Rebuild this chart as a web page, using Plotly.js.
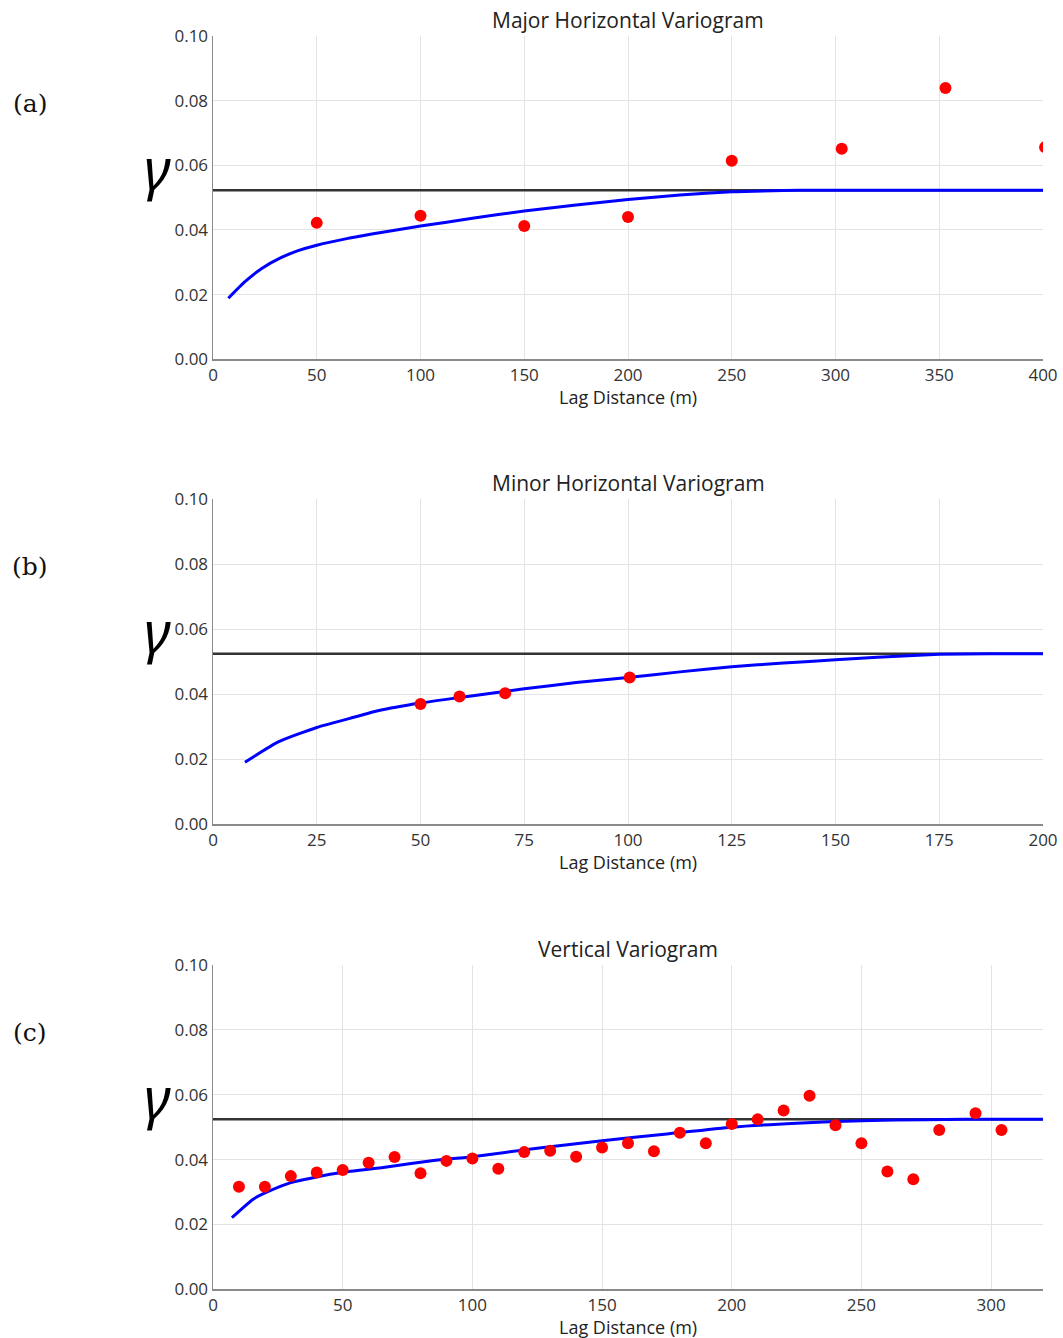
<!DOCTYPE html>
<html>
<head>
<meta charset="utf-8">
<script src="https://cdn.plot.ly/plotly-3.0.1.min.js"></script>
<style>
  html, body { margin: 0; padding: 0; background: #fff; }
  #chart { width: 1063px; height: 1338px; }
</style>
</head>
<body>
<div id="chart"></div>
<script>
// (a) Major horizontal direction: experimental points and fitted model
const majorLag = [50, 100, 150, 200, 250, 303, 353, 401];
const majorGamma = [0.0422, 0.0444, 0.0412, 0.0440, 0.0614, 0.0651, 0.0839, 0.0656];
const majorModelLag = [7.4, 15.4, 23.5, 33, 41, 50, 65, 81, 100, 125, 150, 175, 200, 225, 250, 275, 290, 400];
const majorModelGamma = [0.0189, 0.0240, 0.0281, 0.0315, 0.0336, 0.0353, 0.0374, 0.0392, 0.0412, 0.0436, 0.0459, 0.0477, 0.0494, 0.0508, 0.0518, 0.0522, 0.0523, 0.0523];

// (b) Minor horizontal direction
const minorLag = [50, 59.4, 70.4, 100.4];
const minorGamma = [0.0370, 0.0393, 0.0403, 0.0452];
const minorModelLag = [7.7, 15.6, 25, 33, 40, 50, 60, 75, 87.5, 100, 112.5, 125, 137.5, 150, 160, 175, 187, 200];
const minorModelGamma = [0.0191, 0.0253, 0.0298, 0.0326, 0.0350, 0.0373, 0.0391, 0.0417, 0.0436, 0.0452, 0.0469, 0.0485, 0.0496, 0.0506, 0.0514, 0.0523, 0.0525, 0.0525];

// (c) Vertical direction
const vertLag = [10, 20, 30, 40, 50, 60, 70, 80, 90, 100, 110, 120, 130, 140, 150, 160, 170, 180, 190, 200, 210, 220, 230, 240, 250, 260, 270, 280, 294, 304];
const vertGamma = [0.0316, 0.0316, 0.0349, 0.0360, 0.0368, 0.0390, 0.0408, 0.0358, 0.0396, 0.0403, 0.0372, 0.0423, 0.0427, 0.0409, 0.0437, 0.0450, 0.0426, 0.0483, 0.0450, 0.0510, 0.0524, 0.0551, 0.0597, 0.0506, 0.0450, 0.0363, 0.0339, 0.0491, 0.0543, 0.0491];
const vertModelLag = [7.3, 15.5, 22, 30, 39, 50, 65, 85, 100, 125, 150, 175, 200, 225, 250, 275, 290, 320];
const vertModelGamma = [0.0221, 0.0278, 0.0304, 0.0329, 0.0345, 0.0361, 0.0375, 0.0397, 0.0409, 0.0435, 0.0458, 0.0479, 0.0500, 0.0512, 0.0520, 0.0523, 0.0524, 0.0524];

// Sill of each model
const sills = [0.0523, 0.0525, 0.0524];
const xMax = [400, 200, 320];
const xStep = [50, 25, 50];
const panelTitles = ['Major Horizontal Variogram', 'Minor Horizontal Variogram', 'Vertical Variogram'];
const panelLabels = ['(a)', '(b)', '(c)'];
const yTicks = [0, 0.02, 0.04, 0.06, 0.08, 0.10];

const W = 1063, H = 1338;
const px = v => v / W;
const py = v => 1 - v / H;

// panel frames in pixels: [top, bottom]
const frames = [[36, 359.3], [499.3, 824.3], [965, 1289.3]];
const left = 213, right = 1043;

const tickFont = { family: 'Open Sans, sans-serif', size: 17, color: '#333' };

const series = [
  [majorLag, majorGamma, majorModelLag, majorModelGamma],
  [minorLag, minorGamma, minorModelLag, minorModelGamma],
  [vertLag, vertGamma, vertModelLag, vertModelGamma]
];

const data = [];
const layout = {
  width: W, height: H,
  margin: { l: 0, r: 0, t: 0, b: 0 },
  paper_bgcolor: '#fff', plot_bgcolor: '#fff',
  showlegend: false,
  annotations: []
};

series.forEach((s, i) => {
  const n = i === 0 ? '' : String(i + 1);
  const xa = 'x' + n, ya = 'y' + n;
  // sill
  data.push({ x: [0, xMax[i]], y: [sills[i], sills[i]], xaxis: xa, yaxis: ya,
    mode: 'lines', line: { color: '#333', width: 2.5 }, hoverinfo: 'skip' });
  // fitted model
  data.push({ x: s[2], y: s[3], xaxis: xa, yaxis: ya,
    mode: 'lines', line: { color: '#0000ff', width: 3, shape: 'spline', smoothing: 0.5 } });
  // experimental points
  data.push({ x: s[0], y: s[1], xaxis: xa, yaxis: ya, cliponaxis: true,
    mode: 'markers', marker: { color: '#ff0000', size: 12 } });

  const [top, bot] = frames[i];
  layout['xaxis' + n] = {
    domain: [px(left), px(right)], anchor: ya,
    range: [0, xMax[i]], dtick: xStep[i], tick0: 0,
    showline: true, linecolor: '#8a8a8a', linewidth: 1.5,
    showgrid: true, gridcolor: '#e3e3e3', gridwidth: 1,
    zeroline: false, ticks: '', tickfont: tickFont, fixedrange: true
  };
  layout['yaxis' + n] = {
    domain: [py(bot), py(top)], anchor: xa,
    range: [0, 0.1], tickvals: yTicks, tickformat: '.2f',
    showline: true, linecolor: '#8a8a8a', linewidth: 1.5,
    showgrid: true, gridcolor: '#e3e3e3', gridwidth: 1,
    zeroline: false, ticks: '', tickfont: tickFont, fixedrange: true
  };

  layout.annotations.push({
    text: panelTitles[i], xref: 'paper', yref: 'paper',
    x: px((left + right) / 2), y: py(top - 16), xanchor: 'center', yanchor: 'middle',
    showarrow: false, font: { family: 'Open Sans, sans-serif', size: 21, color: '#222' }
  });
  layout.annotations.push({
    text: 'Lag Distance (m)', xref: 'paper', yref: 'paper',
    x: px((left + right) / 2), y: py(bot + 38), xanchor: 'center', yanchor: 'middle',
    showarrow: false, font: { family: 'Open Sans, sans-serif', size: 18, color: '#222' }
  });
  layout.annotations.push({
    text: '<i>γ</i>', xref: 'paper', yref: 'paper',
    x: px(157), y: py(top + 132), xanchor: 'center', yanchor: 'middle',
    showarrow: false, font: { family: 'Noto Sans, sans-serif', size: 56, color: '#000' }
  });
  layout.annotations.push({
    text: panelLabels[i], xref: 'paper', yref: 'paper',
    x: px(30), y: py(top + 67), xanchor: 'center', yanchor: 'middle',
    showarrow: false, font: { family: 'DejaVu Serif, serif', size: 25, color: '#111' }
  });
});

Plotly.newPlot('chart', data, layout, { displayModeBar: false, staticPlot: true });
</script>
</body>
</html>
